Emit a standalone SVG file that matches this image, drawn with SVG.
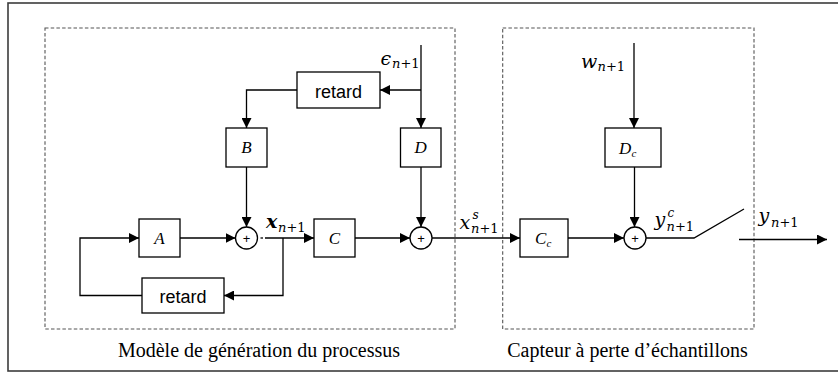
<svg xmlns="http://www.w3.org/2000/svg" width="838" height="373" viewBox="0 0 838 373">
<style>
.box{fill:#fff;stroke:#000;stroke-width:1.3}
.sum{fill:#fff;stroke:#000;stroke-width:1.3}
.ln{fill:none;stroke:#000;stroke-width:1.3}
.dash{fill:none;stroke:#555;stroke-width:1.1;stroke-dasharray:3.5 2.2}
.frame{fill:none;stroke:#3c3c3c;stroke-width:1.6}
.lbl{font-family:"Liberation Serif","Times New Roman",serif;font-style:italic;font-size:17px;fill:#000}
.sub{font-family:"Liberation Serif","Times New Roman",serif;font-style:italic;font-size:11px;fill:#000}
.ret{font-family:"Liberation Sans",Arial,sans-serif;font-size:18px;fill:#000;text-anchor:middle}
.plus{font-family:"Liberation Sans",Arial,sans-serif;font-size:13px;fill:#000;text-anchor:middle}
.m{font-family:"DejaVu Serif",serif;font-style:italic;font-size:19px;fill:#000}
.ms{font-family:"DejaVu Serif",serif;font-size:13px;fill:#000}
.sp{font-family:"DejaVu Serif",serif;font-style:italic;font-size:12px;fill:#000}
.cap{font-family:"Liberation Serif","Times New Roman",serif;font-size:20px;fill:#000;text-anchor:middle}
</style>
<defs>
<marker id="arr" viewBox="0 0 10 10" refX="10" refY="5" markerWidth="10" markerHeight="10" markerUnits="userSpaceOnUse" orient="auto">
<path d="M0,0 L10,5 L0,10 z" fill="#000"/>
</marker>
</defs>
<rect width="838" height="373" fill="#fff"/>
<rect class="frame" x="8" y="3" width="836" height="368"/>
<g id="region-process">
<rect class="dash" x="45" y="28" width="410" height="301"/>
<text class="cap" x="259" y="357">Modèle de génération du processus</text>
</g>
<g id="region-sensor">
<rect class="dash" x="502.7" y="28" width="251.3" height="301"/>
<text class="cap" x="627.5" y="357">Capteur à perte d’échantillons</text>
</g>
<g id="connectors">
<path class="ln" d="M142,295.5 H80 V238 H139" marker-end="url(#arr)"/>
<path class="ln" d="M180,238 H235.5" marker-end="url(#arr)"/>
<path class="ln" d="M297,90 H246.5 V128" marker-end="url(#arr)"/>
<path class="ln" d="M421,45 V128" marker-end="url(#arr)"/>
<path class="ln" d="M421,90 H380" marker-end="url(#arr)"/>
<path class="ln" d="M246.5,167 V227" marker-end="url(#arr)"/>
<path class="ln" d="M260.5,238 H263"/>
<path class="ln" d="M265,238 H314" marker-end="url(#arr)"/>
<path class="ln" d="M283,238 V295.5 H224" marker-end="url(#arr)"/>
<path class="ln" d="M355,238 H410" marker-end="url(#arr)"/>
<path class="ln" d="M421,167 V227" marker-end="url(#arr)"/>
<path class="ln" d="M432,238 H520" marker-end="url(#arr)"/>
<path class="ln" d="M634,43 V128" marker-end="url(#arr)"/>
<path class="ln" d="M634.5,167 V227" marker-end="url(#arr)"/>
<path class="ln" d="M568,238 H624" marker-end="url(#arr)"/>
<path class="ln" d="M646,238 H694 L744,209"/>
<path class="ln" d="M739,239.5 H827" marker-end="url(#arr)"/>
</g>
<g id="node-A">
<rect class="box" x="139" y="219" width="41" height="38"/>
<text class="lbl" x="159.5" y="244" text-anchor="middle">A</text>
</g>
<g id="node-retard-bottom">
<rect class="box" x="142" y="278" width="82" height="35"/>
<text class="ret" x="183" y="303">retard</text>
</g>
<g id="node-retard-top">
<rect class="box" x="297" y="72" width="83" height="36"/>
<text class="ret" x="338.5" y="97.5">retard</text>
</g>
<g id="node-B">
<rect class="box" x="226" y="128" width="41" height="39"/>
<text class="lbl" x="246.5" y="153" text-anchor="middle">B</text>
</g>
<g id="node-D">
<rect class="box" x="400.5" y="128" width="40.5" height="39"/>
<text class="lbl" x="420.75" y="153" text-anchor="middle">D</text>
</g>
<g id="node-C">
<rect class="box" x="314" y="219" width="41" height="38"/>
<text class="lbl" x="334.5" y="244" text-anchor="middle">C</text>
</g>
<g id="node-Cc">
<rect class="box" x="520" y="219" width="48" height="38"/>
<text class="lbl" x="535" y="244">C</text>
<text class="sub" x="546.5" y="247">c</text>
</g>
<g id="node-Dc">
<rect class="box" x="605" y="128" width="56" height="39"/>
<text class="lbl" x="619" y="154">D</text>
<text class="sub" x="631.5" y="157">c</text>
</g>
<g id="sum-1">
<circle class="sum" cx="246.5" cy="238" r="11"/>
<text class="plus" x="246.5" y="242.5">+</text>
</g>
<g id="sum-2">
<circle class="sum" cx="421" cy="238" r="11"/>
<text class="plus" x="421" y="242.5">+</text>
</g>
<g id="sum-3">
<circle class="sum" cx="635" cy="238" r="11"/>
<text class="plus" x="635" y="242.5">+</text>
</g>
<g id="labels">
<text class="m" x="380.5" y="65">ϵ</text>
<text class="ms" x="392" y="68"><tspan font-style="italic">n</tspan>+1</text>
<text class="m" x="581" y="68">w</text>
<text class="ms" x="597.5" y="71"><tspan font-style="italic">n</tspan>+1</text>
<text class="m" x="459.5" y="229">x</text>
<text class="sp" x="472.5" y="219">s</text>
<text class="ms" x="471" y="232.5"><tspan font-style="italic">n</tspan>+1</text>
<text class="m" x="266" y="228" font-weight="bold">x</text>
<text class="ms" x="278" y="231.5"><tspan font-style="italic">n</tspan>+1</text>
<text class="m" x="654.5" y="226">y</text>
<text class="sp" x="667.5" y="217">c</text>
<text class="ms" x="666.5" y="230.5"><tspan font-style="italic">n</tspan>+1</text>
<text class="m" x="758.5" y="222">y</text>
<text class="ms" x="771" y="226.5"><tspan font-style="italic">n</tspan>+1</text>
</g>
</svg>
